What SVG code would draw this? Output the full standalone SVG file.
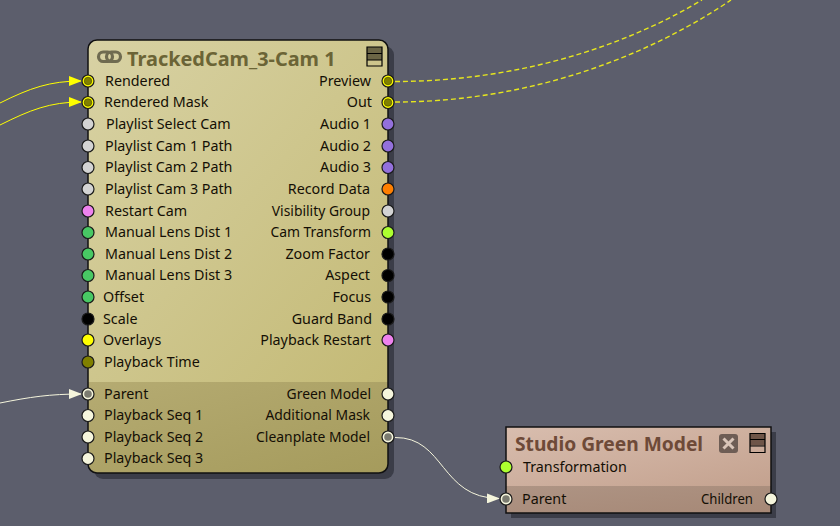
<svg xmlns="http://www.w3.org/2000/svg" width="840" height="526" viewBox="0 0 840 526">
<style>
text{font-family:"Noto Sans","DejaVu Sans",sans-serif;font-size:14.300px;fill:#140f05}
.r{text-anchor:end}
.s{font-size:13.900px}
.t1{font-size:19.900px;font-weight:700;fill:#6b6436}
.t2{font-size:19.200px;font-weight:700;fill:#6e4a38}
.p{stroke:#1a1a1a;stroke-width:1.2}
.gr{fill:#d3d3d3}.pk{fill:#ee82ee}.gn{fill:#48c864}.bk{fill:#000}.yl{fill:#ff0}.ol{fill:#808000}.wh{fill:#f5f5dc}.pu{fill:#9370db}.or{fill:#ff7f00}.li{fill:#adff2f}
.in{stroke:#333300;stroke-width:.5}
.sh{fill:#3b3d48}
.bd{stroke:#111;stroke-width:1.5;fill:none}
.ic{stroke:#000;stroke-width:1.2;fill:none}
.cy{fill:none;stroke:#ff0;stroke-width:1}
.cd{fill:none;stroke:#e6e61e;stroke-width:1.4;stroke-dasharray:5 3}
.cw{fill:none;stroke:#f5f5dc;stroke-width:1}
</style>
<defs>
<linearGradient id="g1" x1="0" y1="0" x2="1" y2="1"><stop offset="0" stop-color="#d8d2a4"/><stop offset="1" stop-color="#c4ba76"/></linearGradient>
<linearGradient id="g2" x1="0" y1="0" x2="1" y2="1"><stop offset="0" stop-color="#b5ab72"/><stop offset="1" stop-color="#a59b5c"/></linearGradient>
<linearGradient id="g3" x1="0" y1="0" x2="1" y2="1"><stop offset="0" stop-color="#d8bdae"/><stop offset="1" stop-color="#c4a28f"/></linearGradient>
<linearGradient id="g4" x1="0" y1="0" x2="1" y2="1"><stop offset="0" stop-color="#ae9484"/><stop offset="1" stop-color="#a68876"/></linearGradient>
<marker id="ay" markerWidth="13" markerHeight="10" refX="12" refY="5" orient="auto" markerUnits="userSpaceOnUse"><path d="M0 0L13 5L0 10z" fill="#ff0"/></marker>
<marker id="aw" markerWidth="13" markerHeight="10" refX="12" refY="5" orient="auto" markerUnits="userSpaceOnUse"><path d="M0 0L13 5L0 10z" fill="#f5f5dc"/></marker>
</defs>
<rect width="840" height="526" fill="#5c5e6c"/>
<g id="connectors">
<path class="cy" marker-end="url(#ay)" d="M0 103C30 88 50 81 81 81"/>
<path class="cy" marker-end="url(#ay)" d="M0 125C30 110 50 102 81 102"/>
<path class="cw" marker-end="url(#aw)" d="M0 403C30 397 50 394 81 394"/>
<path class="cd" d="M395 81.500C500 81.500 610 55 702 0"/>
<path class="cd" d="M395 102C510 102 630 68 731 0"/>
<path class="cw" marker-end="url(#aw)" d="M395 437.500C445 437 440 498 499 498.500"/>
</g>
<g id="node-trackedcam">
<rect class="sh" x="94" y="46" width="300" height="433" rx="9"/>
<path fill="url(#g1)" d="M97 40H379a9 9 0 0 1 9 9V382H88V49a9 9 0 0 1 9-9z"/>
<path fill="url(#g2)" d="M88 382H388V464a9 9 0 0 1-9 9H97a9 9 0 0 1-9-9z"/>
<rect class="bd" x="88" y="40" width="300" height="433" rx="9"/>
<g fill="none" stroke="#6f6b50" stroke-width="3.200"><rect x="98.500" y="52" width="14" height="9.500" rx="4.700"/><rect x="106.500" y="52" width="14" height="9.500" rx="4.700"/></g>
<text class="t1" x="127" y="66">TrackedCam_3-Cam 1</text>
<rect x="367" y="47" width="15" height="13" fill="#6b6545"/>
<path class="ic" d="M367 47h15v19h-15zM367 53.500h15M367 60h15"/>
<text x="105" y="86">Rendered</text>
<text x="104" y="107">Rendered Mask</text>
<text x="106" y="129">Playlist Select Cam</text>
<text x="105" y="151">Playlist Cam 1 Path</text>
<text x="105" y="172">Playlist Cam 2 Path</text>
<text x="105" y="194">Playlist Cam 3 Path</text>
<text x="105" y="216">Restart Cam</text>
<text x="105" y="237">Manual Lens Dist 1</text>
<text x="105" y="259">Manual Lens Dist 2</text>
<text x="105" y="280">Manual Lens Dist 3</text>
<text x="103" y="302">Offset</text>
<text x="103" y="324">Scale</text>
<text x="103" y="345">Overlays</text>
<text x="104" y="367">Playback Time</text>
<text x="104" y="399">Parent</text>
<text x="104" y="420">Playback Seq 1</text>
<text x="104" y="442">Playback Seq 2</text>
<text x="104" y="463">Playback Seq 3</text>
<text class="r" x="371" y="86">Preview</text>
<text class="r" x="372" y="107">Out</text>
<text class="r" x="371" y="129">Audio 1</text>
<text class="r" x="371" y="151">Audio 2</text>
<text class="r" x="371" y="172">Audio 3</text>
<text class="r" x="370" y="194">Record Data</text>
<text class="r s" x="370" y="216">Visibility Group</text>
<text class="r s" x="371" y="237">Cam Transform</text>
<text class="r" x="370" y="259">Zoom Factor</text>
<text class="r" x="370" y="280">Aspect</text>
<text class="r" x="371" y="302">Focus</text>
<text class="r" x="372" y="324">Guard Band</text>
<text class="r" x="371" y="345">Playback Restart</text>
<text class="r s" x="371" y="399">Green Model</text>
<text class="r s" x="370" y="420">Additional Mask</text>
<text class="r s" x="370" y="442">Cleanplate Model</text>
<g class="p">
<circle class="yl" cx="88" cy="81" r="6"/><circle class="yl" cx="88" cy="102.500" r="6"/>
<circle class="gr" cx="88" cy="124" r="6"/><circle class="gr" cx="88" cy="146" r="6"/><circle class="gr" cx="88" cy="167.500" r="6"/><circle class="gr" cx="88" cy="189" r="6"/>
<circle class="pk" cx="88" cy="211" r="6"/>
<circle class="gn" cx="88" cy="232.500" r="6"/><circle class="gn" cx="88" cy="254" r="6"/><circle class="gn" cx="88" cy="275.500" r="6"/><circle class="gn" cx="88" cy="297" r="6"/>
<circle class="bk" cx="88" cy="319" r="6"/><circle class="yl" cx="88" cy="340" r="6"/><circle class="ol" cx="88" cy="362" r="6"/>
<circle class="wh" cx="88" cy="394" r="6"/><circle class="wh" cx="88" cy="415.500" r="6"/><circle class="wh" cx="88" cy="437" r="6"/><circle class="wh" cx="88" cy="458.500" r="6"/>
<circle class="yl" cx="388" cy="81" r="6"/><circle class="yl" cx="388" cy="102.500" r="6"/>
<circle class="pu" cx="388" cy="124" r="6"/><circle class="pu" cx="388" cy="146" r="6"/><circle class="pu" cx="388" cy="167.500" r="6"/>
<circle class="or" cx="388" cy="189" r="6"/><circle class="gr" cx="388" cy="211" r="6"/><circle class="li" cx="388" cy="232.500" r="6"/>
<circle class="bk" cx="388" cy="254" r="6"/><circle class="bk" cx="388" cy="275.500" r="6"/><circle class="bk" cx="388" cy="297" r="6"/><circle class="bk" cx="388" cy="319" r="6"/>
<circle class="pk" cx="388" cy="340" r="6"/>
<circle class="wh" cx="388" cy="394" r="6"/><circle class="wh" cx="388" cy="415.500" r="6"/><circle class="wh" cx="388" cy="437" r="6"/>
</g>
<g class="in">
<circle class="ol" cx="88" cy="81" r="3.800"/><circle class="ol" cx="88" cy="102.500" r="3.800"/>
<circle class="ol" cx="388" cy="81" r="3.800"/><circle class="ol" cx="388" cy="102.500" r="3.800"/>
</g>
<circle cx="88" cy="394" r="3.800" fill="#7b7b70"/><circle cx="388" cy="437" r="3.800" fill="#7b7b70"/>
</g>
<g id="node-studio-green-model">
<rect class="sh" x="511" y="432" width="265" height="86"/>
<rect fill="url(#g3)" x="506" y="427" width="265" height="59"/>
<rect fill="url(#g4)" x="506" y="486" width="265" height="27"/>
<rect class="bd" x="506" y="427" width="265" height="86"/>
<text class="t2" x="515" y="451">Studio Green Model</text>
<rect x="719" y="434" width="19" height="19" rx="3" fill="#6e5d55"/>
<path d="M723.500 438.500l10 10m0-10l-10 10" stroke="#d8c4b8" stroke-width="3" fill="none"/>
<rect x="750" y="433.500" width="15" height="12" fill="#6e5548"/>
<path class="ic" d="M750 433.500h15v19h-15zM750 439.500h15M750 446h15"/>
<text x="523" y="472">Transformation</text>
<text x="522" y="504">Parent</text>
<text class="r" x="753" y="504" textLength="52" lengthAdjust="spacingAndGlyphs">Children</text>
<g class="p">
<circle class="li" cx="506" cy="467" r="6"/><circle class="wh" cx="506" cy="499" r="6"/><circle class="wh" cx="771" cy="499" r="6"/>
</g>
<circle cx="506" cy="499" r="3.800" fill="#7b7b70"/>
</g>
</svg>
